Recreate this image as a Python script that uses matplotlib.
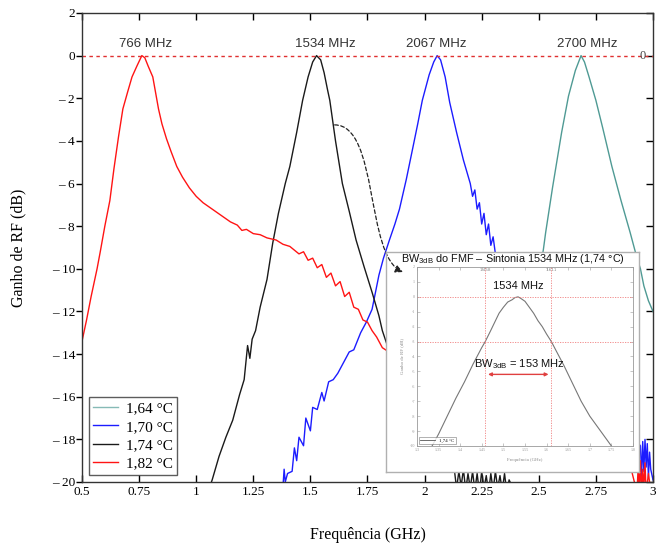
import matplotlib
matplotlib.use("Agg")
import matplotlib.pyplot as plt
from matplotlib.patches import FancyArrowPatch
from matplotlib.path import Path

plt.rcParams['mathtext.fontset'] = 'custom'
plt.rcParams['mathtext.rm'] = 'Liberation Sans'
plt.rcParams['mathtext.it'] = 'Liberation Sans'

SERIF = 'Liberation Serif'
SANS = 'Liberation Sans'

# ---------------- data ----------------
series_labels = ["1,64 °C", "1,70 °C", "1,74 °C", "1,82 °C"]
series_colors = ["#4f9a94", "#1c1cff", "#1a1a1a", "#ff1414"]
legend_colors = ["#86bab6", "#1c1cff", "#1a1a1a", "#ff1414"]

x_182 = [0.50, 0.52, 0.54, 0.566, 0.58, 0.60, 0.622, 0.64, 0.66, 0.679, 0.70, 0.719, 0.74, 0.762,
         0.775, 0.79, 0.81, 0.82, 0.835, 0.85, 0.87, 0.89, 0.915, 0.94, 0.97, 1.00, 1.03, 1.07,
         1.11, 1.15, 1.18, 1.20, 1.22, 1.25, 1.28, 1.31, 1.35, 1.38, 1.41, 1.45, 1.47, 1.49,
         1.51, 1.53, 1.55, 1.57, 1.59, 1.61, 1.63, 1.65, 1.67, 1.69, 1.71, 1.73, 1.75, 1.77,
         1.79, 1.815, 1.90, 2.00, 2.20, 2.40, 2.60, 2.80, 2.90, 2.93, 2.935, 2.94, 2.945, 2.95,
         2.955, 2.96, 2.965, 2.97, 2.98, 2.99, 3.00]
y_182 = [-13.4, -12.4, -11.3, -10.0, -9.2, -8.0, -6.8, -5.3, -3.8, -2.5, -1.7, -1.0, -0.5, 0.0,
         -0.1, -0.5, -1.0, -1.6, -2.5, -3.2, -3.9, -4.5, -5.2, -5.7, -6.2, -6.6, -6.9, -7.2,
         -7.5, -7.8, -7.95, -8.2, -8.15, -8.35, -8.4, -8.55, -8.65, -8.85, -8.95, -9.3, -9.2, -9.6,
         -9.5, -9.95, -9.8, -10.4, -10.2, -10.8, -10.6, -11.3, -11.1, -11.8, -11.9, -12.4, -12.5, -12.9,
         -13.2, -13.7, -14.3, -15.0, -16.2, -17.2, -18.1, -18.9, -19.2, -20.5, -19.3, -20.4, -19.0, -20.6,
         -19.4, -20.3, -19.1, -20.5, -19.6, -20.4, -20.6]

x_174 = [1.05, 1.07, 1.10, 1.13, 1.16, 1.19, 1.21, 1.225, 1.235, 1.245, 1.26, 1.28, 1.31, 1.335,
         1.36, 1.39, 1.41, 1.44, 1.466, 1.49, 1.51, 1.527, 1.545, 1.56, 1.575, 1.585, 1.61, 1.64,
         1.67, 1.70, 1.735, 1.77, 1.80, 1.815, 1.84, 1.90, 2.00, 2.10, 2.13, 2.14, 2.15, 2.16,
         2.17, 2.18, 2.19, 2.20, 2.21, 2.22, 2.23, 2.24, 2.25, 2.26, 2.27, 2.28, 2.29, 2.30,
         2.31, 2.32, 2.33, 2.34, 2.35, 2.36, 2.37, 2.40]
y_174 = [-20.5, -19.9, -18.8, -17.9, -17.1, -15.9, -15.2, -13.6, -14.2, -13.3, -12.9, -11.8, -10.5, -8.8,
         -7.4, -6.0, -5.2, -3.6, -2.1, -1.0, -0.3, 0.0, -0.2, -0.8, -1.6, -2.1, -4.0, -6.0,
         -7.3, -8.65, -9.9, -11.1, -12.2, -12.9, -13.7, -15.4, -17.2, -18.8, -19.4, -20.3, -19.5, -20.2,
         -19.4, -20.4, -19.6, -20.3, -19.5, -20.4, -19.6, -20.5, -19.5, -20.3, -19.7, -20.5, -19.6, -20.4,
         -19.5, -20.3, -19.7, -20.4, -19.6, -20.5, -19.9, -20.6]

x_170 = [1.38, 1.385, 1.39, 1.40, 1.42, 1.43, 1.44, 1.45, 1.47, 1.48, 1.50, 1.51, 1.53, 1.55,
         1.56, 1.58, 1.60, 1.62, 1.65, 1.67, 1.69, 1.72, 1.745, 1.77, 1.80, 1.82, 1.846, 1.87,
         1.89, 1.92, 1.947, 1.97, 1.99, 2.02, 2.04, 2.055, 2.07, 2.09, 2.11, 2.14, 2.17, 2.20,
         2.21, 2.22, 2.23, 2.24, 2.25, 2.26, 2.27, 2.28, 2.29, 2.30, 2.31, 2.40, 2.60, 2.80,
         2.90, 2.945, 2.95, 2.955, 2.96, 2.965, 2.97, 2.975, 2.98, 2.985, 2.99, 3.00]
y_170 = [-20.2, -19.4, -20.0, -19.6, -19.5, -18.4, -19.0, -17.9, -18.3, -17.0, -17.6, -16.5, -16.6, -15.8,
         -16.2, -15.3, -15.2, -14.9, -14.3, -13.9, -13.8, -13.0, -12.5, -11.9, -10.3, -9.5, -8.65, -7.9,
         -7.2, -5.8, -4.4, -3.2, -2.1, -0.9, -0.3, 0.0, -0.2, -1.0, -2.2, -3.6, -4.9, -6.0,
         -6.6, -6.3, -7.2, -6.9, -7.9, -7.4, -8.4, -7.9, -8.9, -8.5, -9.3, -11.0, -14.0, -16.6,
         -17.7, -18.3, -19.8, -18.1, -19.5, -18.0, -19.3, -18.2, -19.8, -18.6, -19.4, -19.9]

x_164 = [2.45, 2.49, 2.52, 2.53, 2.56, 2.60, 2.63, 2.66, 2.685, 2.70, 2.72, 2.75, 2.78, 2.82,
         2.86, 2.90, 2.93, 2.945, 2.96, 2.98, 3.00]
y_164 = [-13.5, -11.0, -9.1, -8.3, -6.2, -3.6, -1.9, -0.7, 0.0, -0.3, -1.0, -2.1, -3.4, -5.2,
         -6.8, -8.3, -9.5, -10.0, -10.8, -11.5, -12.0]

series_x = [x_164, x_170, x_174, x_182]
series_y = [y_164, y_170, y_174, y_182]

peak_labels = ["766 MHz", "1534 MHz", "2067 MHz", "2700 MHz"]
peak_label_x = [0.78, 1.565, 2.05, 2.71]

x_ticks = [0.5, 0.75, 1, 1.25, 1.5, 1.75, 2, 2.25, 2.5, 2.75, 3]
x_tick_labels = ["0.5", "0.75", "1", "1.25", "1.5", "1.75", "2", "2.25", "2.5", "2.75", "3"]
y_ticks = [2, 0, -2, -4, -6, -8, -10, -12, -14, -16, -18, -20]
y_tick_labels = ["2", "0", "– 2", "– 4", "– 6", "– 8", "– 10", "– 12", "– 14", "– 16", "– 18", "– 20"]

# inset (zoom on 1,74 °C)
inset_x = [1.335, 1.35, 1.37, 1.39, 1.41, 1.43, 1.45, 1.458, 1.47, 1.48, 1.49, 1.50, 1.51, 1.52,
           1.527, 1.534, 1.54, 1.55, 1.56, 1.57, 1.58, 1.59, 1.60, 1.611, 1.62, 1.64, 1.66, 1.68,
           1.70, 1.72, 1.74, 1.75]
inset_y = [-10.0, -9.2, -8.0, -6.8, -5.7, -4.5, -3.4, -3.0, -2.3, -1.7, -1.1, -0.7, -0.35, -0.2,
           -0.05, 0.0, -0.1, -0.3, -0.7, -1.1, -1.6, -2.0, -2.5, -3.0, -3.5, -4.6, -5.8, -7.0,
           -8.0, -8.8, -9.6, -10.0]
inset_bw_left = 1.458
inset_bw_right = 1.611
inset_x_ticks = [1.3, 1.35, 1.4, 1.45, 1.5, 1.55, 1.6, 1.65, 1.7, 1.75, 1.8]
inset_y_ticks = [2, 1, 0, -1, -2, -3, -4, -5, -6, -7, -8, -9, -10]

# ---------------- figure ----------------
fig = plt.figure(figsize=(6.58, 5.45), dpi=100)
ax = fig.add_axes([0.1246, 0.1156, 0.8678, 0.8606])

for xs, ys, c in zip(series_x, series_y, series_colors):
    ax.plot(xs, ys, color=c, lw=1.0)

ax.axhline(0, color='#e03030', lw=1.0, ls=(0, (2.5, 2.5)))

for lab, lx in zip(peak_labels, peak_label_x):
    ax.text(lx, 0.25, lab, family=SANS, fontsize=9.5, color='#333333', ha='center', va='bottom')
ax.text(2.955, 0.0, "0", family=SERIF, fontsize=9, color='#444444', ha='center', va='center')

ax.set_xlim(0.5, 3.0)
ax.set_ylim(-20, 2)
ax.set_xticks(x_ticks)
ax.set_xticklabels(x_tick_labels, family=SERIF, fontsize=9.5)
ax.set_yticks(y_ticks)
ax.set_yticklabels(y_tick_labels, family=SERIF, fontsize=9.5)
ax.tick_params(axis='x', direction='in', top=True, length=5, width=1, pad=3)
ax.tick_params(axis='y', direction='out', left=True, length=4, width=1, pad=1)
ax.tick_params(axis='y', which='major', right=True)
for t in ax.yaxis.get_major_ticks():
    t.tick2line.set_marker(matplotlib.lines.TICKLEFT)
    t.tick2line.set_markersize(5)
for sp in ax.spines.values():
    sp.set_color('#333333')
    sp.set_linewidth(1.0)

ax.set_xlabel("Frequência (GHz)", family=SERIF, fontsize=11.5, labelpad=21)
ax.set_ylabel("Ganho de RF (dB)", family=SERIF, fontsize=11.5, labelpad=18)

leg = ax.legend([plt.Line2D([], [], color=c, lw=1.0) for c in legend_colors], series_labels,
                loc='lower left', bbox_to_anchor=(0.012, 0.015), prop={'family': SERIF, 'size': 11},
                frameon=True, fancybox=False, handlelength=1.6, handletextpad=0.5,
                labelspacing=0.3, borderpad=0.3, borderaxespad=0.0)
leg.get_frame().set_edgecolor('#333333')
leg.get_frame().set_linewidth(1.0)

# ---------------- inset box ----------------
box = fig.add_axes([0.5866, 0.1339, 0.3845, 0.4037])
box.set_facecolor('white')
box.set_xticks([]); box.set_yticks([])
for sp in box.spines.values():
    sp.set_color('#b0b0b0'); sp.set_linewidth(1.0)
box.text(0.5, 0.968, r"BW$_{\mathrm{3dB}}$ do FMF – Sintonia 1534 MHz (1,74 °C)", transform=box.transAxes,
         family=SANS, fontsize=7.8, ha='center', va='center', color='#111111')

# dashed arrow from the main curve to the inset
verts = [(1.606, -3.25), (1.80, -3.25), (1.74, -9.4), (1.905, -10.15)]
path = Path(verts, [Path.MOVETO, Path.CURVE4, Path.CURVE4, Path.CURVE4])
arr = FancyArrowPatch(path=path, arrowstyle='-|>', mutation_scale=11, color='#222222',
                      lw=0.9, ls=(0, (3, 2)), transform=ax.transData, clip_on=False)
box.add_artist(arr)

ins = fig.add_axes([0.6337, 0.1817, 0.3283, 0.3284])
ins.plot(inset_x, inset_y, color='#777777', lw=0.8)
ins.axhline(0, color='#f08080', lw=0.6, ls=(0, (1.5, 1.5)))
ins.axhline(-3, color='#f08080', lw=0.6, ls=(0, (1.5, 1.5)))
ins.axvline(inset_bw_left, color='#f08080', lw=0.6, ls=(0, (1.5, 1.5)))
ins.axvline(inset_bw_right, color='#f08080', lw=0.6, ls=(0, (1.5, 1.5)))
ins.annotate('', xy=(inset_bw_left, -5.2), xytext=(inset_bw_right, -5.2),
             arrowprops=dict(arrowstyle='<|-|>', color='#e04040', lw=1.0, mutation_scale=5))
ins.text(1.535, 0.4, "1534 MHz", family=SANS, fontsize=8, ha='center', va='bottom', color='#111111')
ins.text(1.538, -4.95, r"BW$_{\mathrm{3dB}}$ = 153 MHz", family=SANS, fontsize=8, ha='center',
         va='bottom', color='#111111')
ins.text(inset_bw_left, 1.95, "1.458", fontsize=3, ha='center', va='top', color='#888888')
ins.text(inset_bw_right, 1.95, "1.611", fontsize=3, ha='center', va='top', color='#888888')
ins.set_xlim(1.3, 1.8)
ins.set_ylim(-10, 2)
ins.set_xticks(inset_x_ticks)
ins.set_xticklabels([str(v) for v in inset_x_ticks], fontsize=3, color='#888888', family=SERIF)
ins.set_yticks(inset_y_ticks)
ins.set_yticklabels([str(v) for v in inset_y_ticks], fontsize=3, color='#888888', family=SERIF)
ins.tick_params(direction='in', length=2, width=0.4, top=True, right=True, pad=1.5, colors='#999999')
for sp in ins.spines.values():
    sp.set_color('#999999'); sp.set_linewidth(0.6)
ins.set_xlabel("Frequência (GHz)", fontsize=3.5, family=SERIF, color='#888888', labelpad=4)
ins.set_ylabel("Ganho de RF (dB)", fontsize=3.5, family=SERIF, color='#888888', labelpad=4)
il = ins.legend([plt.Line2D([], [], color='#555555', lw=0.6)], ["1,74 °C"], loc='lower left',
                prop={'family': SERIF, 'size': 3.5}, fancybox=False, handlelength=3,
                borderpad=0.3, borderaxespad=0.4)
il.get_frame().set_edgecolor('#777777'); il.get_frame().set_linewidth(0.5)

fig.savefig("out.png", dpi=100)
